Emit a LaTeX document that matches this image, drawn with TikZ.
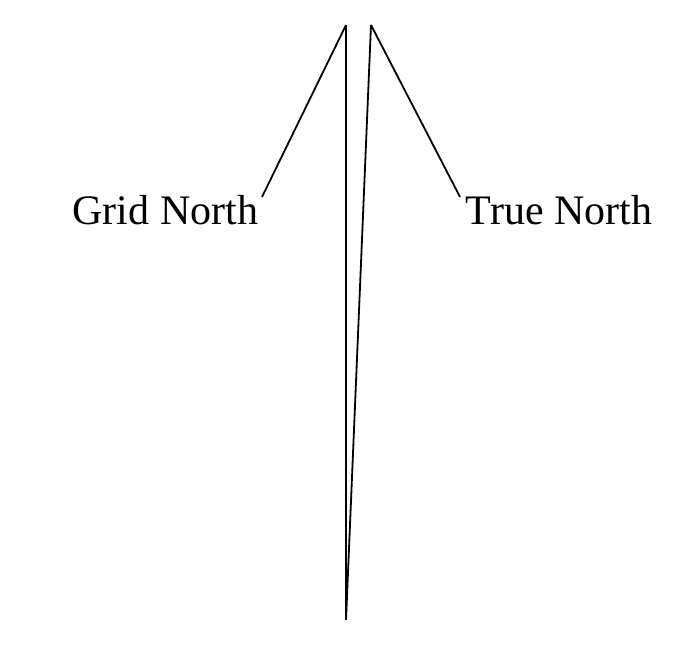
\documentclass[tikz,border=0pt]{standalone}
\usepackage{fontspec}
\setmainfont{Liberation Serif}
\begin{document}
\begin{tikzpicture}[x=1pt,y=-1pt,line width=1.8pt,
    label/.style={font=\fontsize{42}{48}\selectfont, inner sep=0pt}]
  \useasboundingbox (0,0) rectangle (692,648);
  % 1. Common point at the bottom and the two tips
  \coordinate (base) at (346,620);
  \coordinate (gridtip) at (346,25);
  \coordinate (truetip) at (371,25);

  % 2. Labels
  \node[label, anchor=base east] (gridlabel) at (259,224) {Grid North};
  \node[label, anchor=base west] (truelabel) at (465,224) {True North};

  % 3. The two north lines
  \draw (base) -- (gridtip);
  \draw (base) -- (truetip);

  % Leaders from the tips to the labels
  \draw (gridtip) -- ([shift={(3pt,-3pt)}]gridlabel.north east);
  \draw (truetip) -- ([shift={(-5pt,-3pt)}]truelabel.north west);
\end{tikzpicture}
\end{document}
